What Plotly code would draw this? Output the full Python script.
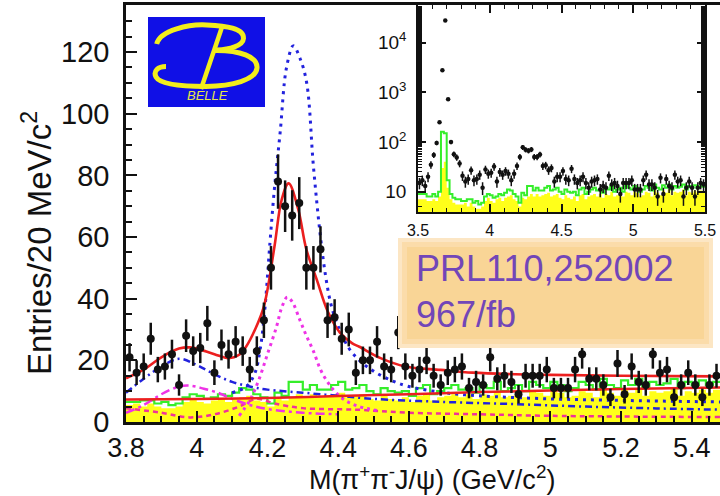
import numpy as np
import plotly.graph_objects as go

W, H = 720, 496

# ---------------- main spectrum: M(pi+ pi- J/psi), 20 MeV bins ----------------
bin_centers = [round(3.81 + 0.02 * i, 2) for i in range(84)]
counts = [21, 16, 18, 27, 17, 18, 22, 12, 28, 23,
          24, 32, 16, 25, 22, 26, 23, 17, 23, 33,
          50, 78, 70, 67, 71, 50, 50, 56, 33, 34,
          27, 30, 16, 20, 20, 26, 18, 17, 29, 18,
          15, 17, 20, 15, 12, 16, 17, 18, 11, 13,
          12, 21, 14, 15, 13, 9, 15, 15, 15, 17,
          11, 11, 11, 17, 22, 14, 14, 12, 8, 19,
          9, 18, 13, 12, 22, 16, 17, 8, 12, 16,
          12, 8, 12, 15]

# J/psi sideband (yellow) and total background estimate (green)
sideband = [5.5, 6, 5, 6, 5, 4.5, 4.5, 5, 6.5, 7.5,
            6.5, 6, 7, 7.5, 6.5, 7.5, 8, 8.5, 7, 6.5,
            5, 7.5, 7, 8, 9, 8, 9, 8, 8.5, 9,
            9.5, 8, 8.5, 9, 7.5, 7, 8.5, 7.5, 7, 8,
            6.5, 8.5, 9, 7, 8, 8.5, 9, 8, 9, 7.5,
            9, 8.5, 10, 8, 8.5, 9.5, 8, 10, 9.5, 8.5,
            10, 9.5, 8, 8.5, 10, 9.5, 8, 11, 9.5, 8.5,
            10.5, 9.5, 11, 8.5, 10, 9.5, 10, 11, 8.5, 10,
            9.5, 10.5, 9.5, 10.5]
bkg_hist = [6.5, 6.5, 7, 7, 6, 6.5, 5.5, 6, 8, 9,
            8.5, 7.5, 8, 9, 8.5, 9.5, 11, 10.5, 9, 8,
            6, 9.5, 8.5, 13, 13, 10.5, 12, 10.5, 10.5, 12,
            13, 10.5, 11, 12, 10, 9, 11, 10, 9.5, 10,
            8.5, 11, 12, 9, 10, 11, 12, 10.5, 11, 9.5,
            12, 11, 13, 10, 11, 12, 10, 13, 12, 11,
            13, 12, 10, 11, 13, 12, 10.5, 14, 12, 11,
            13.5, 12, 14, 11, 13, 12, 12.5, 14, 11, 13,
            12, 13.5, 12, 13]

# fit curves
fit_total_x = [3.80, 3.85, 3.90, 3.95, 3.98, 4.00, 4.05, 4.09, 4.12, 4.14, 4.165, 4.19,
               4.22, 4.24, 4.26, 4.287, 4.31, 4.34, 4.37, 4.405, 4.44, 4.46, 4.52, 4.59,
               4.69, 4.78, 4.90, 5.00, 5.20, 5.48]
fit_total_y = [14.2, 17.0, 21.0, 23.8, 24.2, 23.8, 22.0, 20.7, 21.8, 24.5, 30.0, 37.5,
               57.0, 72.0, 77.4, 69.0, 56.0, 46.0, 36.0, 29.0, 25.5, 24.4, 20.7, 18.0,
               16.9, 16.0, 15.5, 15.3, 15.0, 14.8]

fit_bkg_x = [3.80, 4.00, 4.20, 4.40, 4.60, 4.80, 5.00, 5.20, 5.48]
fit_bkg_y = [7.3, 7.5, 7.8, 8.4, 9.0, 9.7, 10.2, 10.7, 11.2]

y4260_sol2_x = [4.10, 4.14, 4.165, 4.18, 4.193, 4.207, 4.22, 4.236, 4.254, 4.273, 4.292,
                4.311, 4.33, 4.349, 4.365, 4.38, 4.40, 4.43, 4.46, 4.50, 4.55, 4.60,
                4.70, 4.80, 5.00, 5.20, 5.48]
y4260_sol2_y = [9.5, 11.5, 16.0, 24.0, 37.0, 58.0, 76.0, 94.0, 115.0, 122.0, 118.0,
                110.0, 83.0, 61.0, 47.0, 38.0, 31.0, 24.0, 20.0, 16.5, 13.5, 11.5,
                9.5, 8.5, 7.5, 7.0, 6.5]

y4008_sol2_x = [3.80, 3.85, 3.90, 3.95, 4.00, 4.05, 4.10, 4.15, 4.20, 4.30, 4.40, 4.50,
                4.70, 4.90, 5.10, 5.30, 5.48]
y4008_sol2_y = [9.5, 14.0, 18.0, 20.5, 18.5, 15.5, 13.0, 11.5, 10.5, 9.5, 8.5, 7.5,
                6.5, 5.8, 5.0, 4.4, 4.0]

y4260_sol1_x = [4.12, 4.15, 4.175, 4.20, 4.226, 4.24, 4.256, 4.27, 4.292, 4.31, 4.33,
                4.35, 4.37, 4.39, 4.42, 4.46, 4.52]
y4260_sol1_y = [2.0, 7.0, 13.5, 22.0, 31.0, 37.0, 40.5, 39.0, 33.0, 28.0, 23.0,
                17.0, 13.0, 10.0, 7.0, 5.0, 3.5]

y4008_sol1_x = [3.80, 3.85, 3.90, 3.95, 3.98, 4.02, 4.06, 4.10, 4.15, 4.20, 4.30, 4.40]
y4008_sol1_y = [3.0, 5.5, 9.0, 11.5, 11.8, 10.8, 9.5, 7.5, 5.5, 4.2, 3.0, 2.5]

interf_x = [3.80, 3.90, 3.98, 4.05, 4.12, 4.17, 4.22, 4.30, 4.45, 4.60, 4.80, 5.00, 5.48]
interf_y = [4.5, 3.0, 1.5, 2.5, 5.0, 7.5, 6.0, 4.5, 4.0, 3.0, 2.5, 2.0, 1.6]

# ---------------- inset: wide range, log scale ----------------
inset_low_centers = [round(3.51 + 0.02 * i, 2) for i in range(15)]
inset_low_counts = [15, 17, 13, 20, 35, 55, 96, 250, 2800, 28000, 730, 100, 57, 49, 37]
inset_low_sideband = [7, 7, 7, 6.5, 6.5, 7, 6.5, 8, 30, 40, 12, 7, 6, 5.5, 5.5]
inset_low_bkg = [9, 9, 9, 8, 8, 9, 8, 10, 160, 150, 17, 9, 7.5, 7, 7]
inset_high_centers = [5.49]
inset_high_counts = [14]
inset_high_sideband = [10]
inset_high_bkg = [12.5]

inset_centers = inset_low_centers + bin_centers + inset_high_centers
inset_counts = inset_low_counts + counts + inset_high_counts
inset_sideband = inset_low_sideband + sideband + inset_high_sideband
inset_bkg = inset_low_bkg + bkg_hist + inset_high_bkg

x_ticks_main = [3.8, 4.0, 4.2, 4.4, 4.6, 4.8, 5.0, 5.2, 5.4]
x_ticks_inset = [3.5, 4.0, 4.5, 5.0, 5.5]
y_ticks_inset = [10, 100, 1000, 10000]
y_ticktext_inset = ["10", "10<sup>2</sup>", "10<sup>3</sup>", "10<sup>4</sup>"]

RED = "#ec1f1f"
BLUE = "#2222dd"
MAG = "#ee33e6"
PINK = "#f0329a"
YEL = "#ffff1a"
GRN = "#35ee2a"
FONT = "Liberation Sans, Arial, sans-serif"


def px(x):
    return x / W


def py(y):
    return 1 - y / H


def step_xy(centers, vals, width=0.02):
    xs = [c - width / 2 for c in centers] + [centers[-1] + width / 2]
    ys = list(vals) + [vals[-1]]
    return xs, ys


def filled_step(centers, vals, floor):
    xs, ys = step_xy(centers, vals)
    return xs + [xs[-1], xs[0]], ys + [floor, floor]


fig = go.Figure()

# ---- main panel ----
fx, fy = filled_step(bin_centers, sideband, 0)
fig.add_trace(go.Scatter(x=fx, y=fy, mode="lines", line=dict(width=0, shape="hv"),
                         fill="toself", fillcolor=YEL, hoverinfo="skip"))
gx, gy = step_xy(bin_centers, bkg_hist)
fig.add_trace(go.Scatter(x=gx, y=gy, mode="lines", line=dict(color=GRN, width=2.2, shape="hv")))

fig.add_trace(go.Scatter(x=interf_x, y=interf_y, mode="lines",
                         line=dict(color=PINK, width=2.5, dash="5px,4px", shape="spline")))
fig.add_trace(go.Scatter(x=y4008_sol1_x, y=y4008_sol1_y, mode="lines",
                         line=dict(color=MAG, width=2.5, dash="9px,4px,3px,4px", shape="spline")))
fig.add_trace(go.Scatter(x=y4260_sol1_x, y=y4260_sol1_y, mode="lines",
                         line=dict(color=MAG, width=3, dash="3px,4px", shape="spline")))
fig.add_trace(go.Scatter(x=y4008_sol2_x, y=y4008_sol2_y, mode="lines",
                         line=dict(color=BLUE, width=2.5, dash="7px,4px,2px,4px", shape="spline")))
fig.add_trace(go.Scatter(x=y4260_sol2_x, y=y4260_sol2_y, mode="lines",
                         line=dict(color=BLUE, width=3, dash="3px,5px", shape="spline")))
fig.add_trace(go.Scatter(x=fit_bkg_x, y=fit_bkg_y, mode="lines",
                         line=dict(color=RED, width=2.5, shape="spline")))
fig.add_trace(go.Scatter(x=fit_total_x, y=fit_total_y, mode="lines",
                         line=dict(color=RED, width=2.6, shape="spline")))

fig.add_trace(go.Scatter(
    x=bin_centers, y=counts, mode="markers",
    marker=dict(color="#111111", size=8),
    error_y=dict(type="data", array=list(np.sqrt(counts)), color="#111111",
                 thickness=2.5, width=0)))

# ---- inset panel ----
ix, iy = filled_step(inset_centers, inset_sideband, 1)
fig.add_trace(go.Scatter(x=ix, y=iy, mode="lines", line=dict(width=0, shape="hv"),
                         fill="toself", fillcolor=YEL, xaxis="x2", yaxis="y2"))
igx, igy = step_xy(inset_centers, inset_bkg)
fig.add_trace(go.Scatter(x=igx, y=igy, mode="lines", line=dict(color=GRN, width=2, shape="hv"),
                         xaxis="x2", yaxis="y2"))
fig.add_trace(go.Scatter(
    x=inset_centers, y=inset_counts, mode="markers",
    marker=dict(color="#111111", size=4.5),
    error_y=dict(type="data", array=list(np.sqrt(inset_counts)), color="#111111",
                 thickness=1.5, width=0),
    xaxis="x2", yaxis="y2"))

tickfont_x = dict(family=FONT, size=27, color="#111111")
tickfont_y = dict(family=FONT, size=29, color="#111111")
tickfont_inset_x = dict(family=FONT, size=16, color="#111111")
tickfont_inset_y = dict(family=FONT, size=19, color="#111111")

fig.update_layout(
    width=W, height=H, margin=dict(l=0, r=0, t=0, b=0, autoexpand=False),
    paper_bgcolor="white", plot_bgcolor="white", showlegend=False,
    xaxis=dict(domain=[px(126), 1.0], range=[3.8, 3.8 + 594 / 353.6], automargin=False,
               tickvals=x_ticks_main, ticks="inside", ticklen=11, tickwidth=2,
               tickcolor="#111111", showline=True, linecolor="#111111", linewidth=2.5,
               mirror=True, showgrid=False, zeroline=False, tickfont=tickfont_x,
               ticklabelstandoff=0,
               minor=dict(dtick=0.05, ticks="inside", ticklen=6, tickwidth=2,
                          tickcolor="#111111", showgrid=False),
               anchor="y"),
    yaxis=dict(domain=[py(422), py(5)], range=[0, 417 / 3.083], automargin=False,
               tickvals=[0, 20, 40, 60, 80, 100, 120], ticks="inside", ticklen=11,
               tickwidth=2, tickcolor="#111111", showline=True, linecolor="#111111",
               linewidth=2.5, showgrid=False, zeroline=False, tickfont=tickfont_y,
               ticklabelstandoff=8,
               minor=dict(dtick=5, ticks="inside", ticklen=6, tickwidth=2,
                          tickcolor="#111111", showgrid=False),
               anchor="x"),
    xaxis2=dict(domain=[px(418), px(705)], range=[3.5, 5.5], tickvals=x_ticks_inset,
                ticktext=["3.5", "4", "4.5", "5", "5.5"], automargin=False,
                ticks="inside", ticklen=8, tickwidth=1.5, tickcolor="#111111",
                showline=True, linecolor="#111111", linewidth=1.5, mirror="ticks",
                showgrid=False, zeroline=False, tickfont=tickfont_inset_x,
                ticklabelstandoff=3,
                minor=dict(dtick=0.1, ticks="inside", ticklen=4, tickwidth=1.2,
                           tickcolor="#111111", showgrid=False),
                anchor="y2"),
    yaxis2=dict(domain=[py(212), py(5)], type="log", range=[0.59, 4.76], automargin=False,
                tickvals=y_ticks_inset, ticktext=y_ticktext_inset,
                ticks="inside", ticklen=8, tickwidth=1.5, tickcolor="#111111",
                showline=True, linecolor="#111111", linewidth=1.5, mirror="ticks",
                showgrid=False, zeroline=False, tickfont=tickfont_inset_y,
                ticklabelstandoff=6,
                minor=dict(ticks="inside", ticklen=4, tickwidth=1.2,
                           tickcolor="#111111", showgrid=False),
                anchor="x2"),
)

shapes = []
# inset background
shapes.append(dict(type="rect", xref="paper", yref="paper", layer="below",
                   x0=px(418), x1=px(705), y0=py(212), y1=py(5),
                   fillcolor="white", line=dict(width=0)))
# reference label box with soft edges
for inset_px, col in [(0, "#fce6c4"), (4, "#fbdcaa"), (9, "#f9d596")]:
    shapes.append(dict(type="rect", xref="paper", yref="paper", layer="above",
                       x0=px(398 + inset_px), x1=px(713 - inset_px),
                       y0=py(348 - inset_px), y1=py(238 + inset_px),
                       fillcolor=col, line=dict(width=0)))
# Belle logo
shapes.append(dict(type="rect", xref="paper", yref="paper", layer="above",
                   x0=px(148), x1=px(265), y0=py(107), y1=py(17),
                   fillcolor="#1010e6", line=dict(width=0)))


def path(cmds):
    out = []
    for c in cmds:
        if isinstance(c, str):
            out.append(c)
        else:
            out.append(f"{px(c[0]):.5f},{py(c[1]):.5f}")
    return " ".join(out)


logo_yellow = "#f2ee1c"
b_upper = path(["M", (156.7, 44), "C", (160, 30), (190, 24), (206.7, 25),
                "C", (226, 26), (244, 28), (243.5, 38.5),
                "C", (243, 46), (229, 49.5), (217, 50)])
b_lower = path(["M", (214, 50.5), "C", (240, 50), (258, 57), (257, 68),
                "C", (256, 80), (232, 86), (206, 86.5),
                "C", (180, 86.5), (160, 84), (156, 77),
                "C", (153, 71), (158, 66.5), (166, 66.5)])
b_stem = path(["M", (222, 27), "L", (201, 89)])
for p, wdt in [(b_upper, 5), (b_lower, 5), (b_stem, 4.5)]:
    shapes.append(dict(type="path", xref="paper", yref="paper", layer="above",
                       path=p, line=dict(color=logo_yellow, width=wdt)))

annotations = [
    dict(text="<i>BELLE</i>", x=px(208), y=py(95), xref="paper", yref="paper",
         showarrow=False, font=dict(family=FONT, size=13, color="#e6e64a"),
         xanchor="center", yanchor="middle"),
    dict(text="PRL110,252002", x=px(414), y=py(268), xref="paper", yref="paper",
         showarrow=False, font=dict(family=FONT, size=36, color="#7246b8"),
         xanchor="left", yanchor="middle"),
    dict(text="967/fb", x=px(414), y=py(314), xref="paper", yref="paper",
         showarrow=False, font=dict(family=FONT, size=36, color="#7246b8"),
         xanchor="left", yanchor="middle"),
    dict(text="M(π<sup>+</sup>π<sup>-</sup>J/ψ) (GeV/c<sup>2</sup>)", x=px(432), y=py(478),
         xref="paper", yref="paper", showarrow=False,
         font=dict(family=FONT, size=27, color="#111111"),
         xanchor="center", yanchor="middle"),
    dict(text="Entries/20 MeV/c<sup>2</sup>", x=px(37), y=py(243), xref="paper",
         yref="paper", showarrow=False, textangle=-90,
         font=dict(family=FONT, size=33, color="#111111"),
         xanchor="center", yanchor="middle"),
]

fig.update_layout(shapes=shapes, annotations=annotations)
fig.write_html("out.html")
